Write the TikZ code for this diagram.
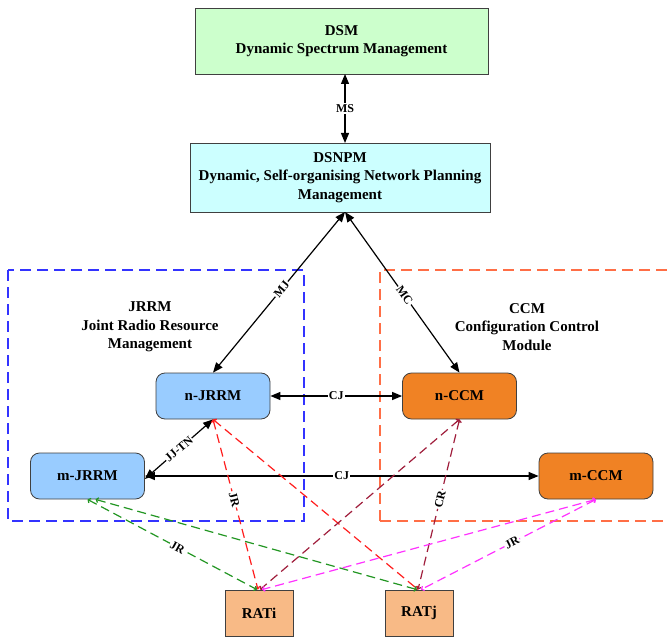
\documentclass[tikz,border=0pt]{standalone}
\usepackage{fontspec}
\setmainfont{Liberation Serif}
\usetikzlibrary{arrows.meta}
\definecolor{dsmgreen}{RGB}{204,255,204}
\definecolor{dsnpmcyan}{RGB}{204,255,255}
\definecolor{jblue}{RGB}{153,204,255}
\definecolor{corange}{RGB}{240,130,36}
\definecolor{ratfill}{RGB}{248,186,134}
\definecolor{frameblue}{RGB}{51,51,255}
\definecolor{frameorange}{RGB}{255,110,70}
\definecolor{lnred}{RGB}{255,30,30}
\definecolor{lnmaroon}{RGB}{160,30,60}
\definecolor{lngreen}{RGB}{34,150,34}
\definecolor{lnmag}{RGB}{255,50,255}
\tikzset{
  box/.style={draw=black!75, line width=0.8pt, align=center, inner sep=0pt,
    font=\fontsize{15}{18.5}\selectfont\bfseries},
  rbox/.style={box, rounded corners=9pt, minimum width=114pt, minimum height=46pt},
  ratbox/.style={box, fill=ratfill, minimum width=68pt, minimum height=46pt},
  grouplbl/.style={align=center, font=\fontsize{15}{18.5}\selectfont\bfseries},
  lbl/.style={fill=white, text=black, inner sep=1pt, font=\fontsize{12}{13}\selectfont\bfseries},
  solidarr/.style={line width=1.2pt, >={Triangle[length=10pt,width=8pt]}, <->},
  dline/.style={line width=1.2pt, dash pattern=on 9pt off 5pt,
    {Straight Barb[length=2pt,width=5pt]}-{Straight Barb[length=2pt,width=5pt]}},
  frame/.style={line width=1.5pt, dash pattern=on 11pt off 6pt}
}
\begin{document}
\begin{tikzpicture}[x=1pt,y=-1pt]
\useasboundingbox (0,0) rectangle (669,639);
\fill[white] (0,0) rectangle (669,639);

% group frames
\draw[frame, frameblue] (8,270) rectangle (304,521);
\draw[frame, frameorange] (380,521) -- (380,270) -- (672,270);
\draw[frame, frameorange] (380,521) -- (672,521);

\node[grouplbl] (jrrmlbl) at (150,327) {JRRM\\Joint Radio Resource\\Management};
\node[grouplbl] (ccmlbl) at (527,327) {CCM\\Configuration Control\\Module};

% top boxes
\node[box, fill=dsmgreen, minimum width=293pt, minimum height=66pt] (dsm) at (341.5,41)
  {DSM\\Dynamic Spectrum Management};
\node[box, fill=dsnpmcyan, minimum width=300pt, minimum height=69pt] (dsnpm) at (340,177.5)
  {DSNPM\\Dynamic, Self-organising Network Planning\\Management};

% module boxes
\node[rbox, fill=jblue] (nj) at (213,396) {n-JRRM};
\node[rbox, fill=jblue] (mj) at (87.5,476) {m-JRRM};
\node[rbox, fill=corange] (nc) at (459.5,396) {n-CCM};
\node[rbox, fill=corange] (mc) at (596,476) {m-CCM};
\node[ratbox] (rati) at (259,613) {RATi};
\node[ratbox] (ratj) at (419,613) {RATj};

% anchor points
\coordinate (dsmb) at (345,74);
\coordinate (dsnt) at (345,143);
\coordinate (dsnb) at (345,212);

% solid connectors
\draw[solidarr] (dsmb) -- node[lbl] {MS} (dsnt);
\draw[solidarr] (dsnb) -- node[lbl, sloped, pos=0.48] {MJ} (nj.north);
\draw[solidarr] (dsnb) -- node[lbl, sloped, pos=0.52] {MC} (nc.north);
\draw[solidarr] (nj.east) -- node[lbl] {CJ} (nc.west);
\draw[solidarr] (mj.east) -- node[lbl] {CJ} (mc.west);
\draw[solidarr] (nj.south) -- node[lbl, sloped, inner sep=0.5pt] {JJ-TN} ([yshift=-3pt]mj.east);

% dashed connectors
\draw[dline, lnred] (nj.south) -- node[lbl, sloped, pos=0.47] {JR} ([xshift=-1pt]rati.north);
\draw[dline, lnred] (nj.south) -- ([xshift=-1pt]ratj.north);
\draw[dline, lnmaroon] (nc.south) -- ([xshift=1pt]rati.north);
\draw[dline, lnmaroon] (nc.south) -- node[lbl, sloped, pos=0.47] {CR} ([xshift=-1pt]ratj.north);
\draw[dline, lngreen] (mj.south) -- node[lbl, sloped, pos=0.53] {JR} ([xshift=-2pt]rati.north);
\draw[dline, lngreen] ([xshift=8pt]mj.south) -- ([xshift=-2pt]ratj.north);
\draw[dline, lnmag] (mc.south) -- ([xshift=3pt]rati.north);
\draw[dline, lnmag] (mc.south) -- node[lbl, sloped, pos=0.48] {JR} ([xshift=2pt]ratj.north);
\end{tikzpicture}
\end{document}
